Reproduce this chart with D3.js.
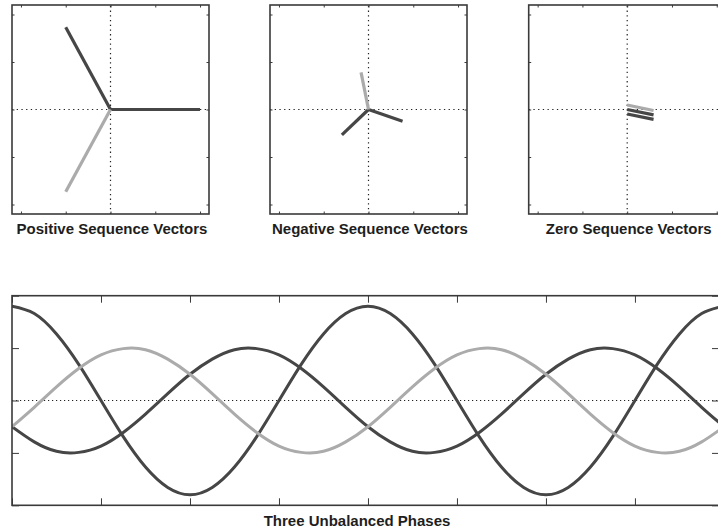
<!DOCTYPE html>
<html>
<head>
<meta charset="utf-8">
<script src="https://cdn.jsdelivr.net/npm/d3@7/dist/d3.min.js"></script>
<style>
  html, body { margin: 0; padding: 0; background: #fff; }
  svg { display: block; }
  text { font-family: "Liberation Sans", Arial, sans-serif; }
</style>
</head>
<body>
<script>
// ---- Phase styling order: A, B, C ----
const phases = ["A", "B", "C"];
const phaseColors = ["#464646", "#ababab", "#464646"];

// ---- Symmetrical-component phasors (magnitude, angle in degrees) ----
const posMag = [1.0, 1.0, 1.0];
const posAng = [0, 240, 120];
const negMag = [0.40, 0.40, 0.40];
const negAng = [342, 102, 222];
const zeroMag = [0.30, 0.30, 0.30];
const zeroAng = [-11, -11, -11];

const vectorTicks = [-1, -0.5, 0, 0.5, 1];
const panelTitles = ["Positive Sequence Vectors", "Negative Sequence Vectors", "Zero Sequence Vectors"];

// ---- Phase waveforms, sampled every 22.5 degrees over two cycles ----
const angleDeg = d3.range(0, 721, 22.5);
const phaseA = [1.80, 1.66, 1.27, 0.69, 0.00, -0.69, -1.27, -1.66, -1.80, -1.66, -1.27, -0.69, 0.00, 0.69, 1.27, 1.66,
                1.80, 1.66, 1.27, 0.69, 0.00, -0.69, -1.27, -1.66, -1.80, -1.66, -1.27, -0.69, 0.00, 0.69, 1.27, 1.66, 1.80];
const phaseB = [-0.50, -0.13, 0.26, 0.61, 0.87, 0.99, 0.97, 0.79, 0.50, 0.13, -0.26, -0.61, -0.87, -0.99, -0.97, -0.79,
                -0.50, -0.13, 0.26, 0.61, 0.87, 0.99, 0.97, 0.79, 0.50, 0.13, -0.26, -0.61, -0.87, -0.99, -0.97, -0.79, -0.50];
const phaseC = [-0.50, -0.79, -0.97, -0.99, -0.87, -0.61, -0.26, 0.13, 0.50, 0.79, 0.97, 0.99, 0.87, 0.61, 0.26, -0.13,
                -0.50, -0.79, -0.97, -0.99, -0.87, -0.61, -0.26, 0.13, 0.50, 0.79, 0.97, 0.99, 0.87, 0.61, 0.26, -0.13, -0.50];
const waveTicksX = [0, 90, 180, 270, 360, 450, 540, 630, 720];
const waveTicksY = [-2, -1, 0, 1, 2];
const waveTitle = "Three Unbalanced Phases";

const W = 718, H = 530;
const svg = d3.select("body").append("svg").attr("width", W).attr("height", H);

const frameColor = "#3a3a3a";

function inwardAxes(g, x, y, xt, yt, len) {
  const [x0, x1] = x.range();
  const [y0, y1] = y.range();
  const strip = sel => { sel.select(".domain").remove(); sel.selectAll("line").attr("stroke", frameColor).attr("stroke-width", 1); };
  g.append("g").attr("transform", `translate(0,${y0})`)
    .call(d3.axisBottom(x).tickValues(xt).tickSizeInner(-len).tickSizeOuter(0).tickFormat(""))
    .call(strip);
  g.append("g").attr("transform", `translate(0,${y1})`)
    .call(d3.axisTop(x).tickValues(xt).tickSizeInner(-len).tickSizeOuter(0).tickFormat(""))
    .call(strip);
  g.append("g").attr("transform", `translate(${x0},0)`)
    .call(d3.axisLeft(y).tickValues(yt).tickSizeInner(-len).tickSizeOuter(0).tickFormat(""))
    .call(strip);
  g.append("g").attr("transform", `translate(${x1},0)`)
    .call(d3.axisRight(y).tickValues(yt).tickSizeInner(-len).tickSizeOuter(0).tickFormat(""))
    .call(strip);
  g.append("rect")
    .attr("x", x0).attr("y", y1)
    .attr("width", x1 - x0).attr("height", y0 - y1)
    .attr("fill", "none").attr("stroke", frameColor).attr("stroke-width", 1.6);
}

// ---- Three phasor panels ----
const panelLeft = [12, 270, 528.7];
const panelW = 197, panelTop = 5, panelH = 209;
const panelData = [
  {mag: posMag, ang: posAng, stagger: 0},
  {mag: negMag, ang: negAng, stagger: 0},
  {mag: zeroMag, ang: zeroAng, stagger: 0.047}
];
// draw order keeps the light phase above the dark ones
const drawOrder = [0, 2, 1];
const staggerSign = [0, 1, -1];

panelData.forEach((pd, i) => {
  const x = d3.scaleLinear().domain([-1.1, 1.1]).range([panelLeft[i], panelLeft[i] + panelW]);
  const y = d3.scaleLinear().domain([-1.1, 1.1]).range([panelTop + panelH, panelTop]);
  const g = svg.append("g");

  // zero reference lines
  g.append("line")
    .attr("x1", x(-1.1)).attr("x2", x(1.1)).attr("y1", y(0)).attr("y2", y(0))
    .attr("stroke", "#222").attr("stroke-width", 1.2).attr("stroke-dasharray", "1.3,3.4");
  g.append("line")
    .attr("x1", x(0)).attr("x2", x(0)).attr("y1", y(-1.1)).attr("y2", y(1.1))
    .attr("stroke", "#222").attr("stroke-width", 1.2).attr("stroke-dasharray", "1.3,3.4");

  const vecs = drawOrder.map(k => {
    const a = pd.ang[k] * Math.PI / 180;
    const oy = staggerSign[k] * pd.stagger;
    return {k, x0: 0, y0: oy, x1: pd.mag[k] * Math.cos(a), y1: oy + pd.mag[k] * Math.sin(a)};
  });
  g.selectAll("line.vec").data(vecs).join("line")
    .attr("class", "vec")
    .attr("x1", d => x(d.x0)).attr("y1", d => y(d.y0))
    .attr("x2", d => x(d.x1)).attr("y2", d => y(d.y1))
    .attr("stroke", d => phaseColors[d.k])
    .attr("stroke-width", 3.2)
    .attr("stroke-linecap", "butt");

  inwardAxes(g, x, y, vectorTicks, vectorTicks, 2.5);

  svg.append("text")
    .attr("x", x(0) + 1.5).attr("y", 234)
    .attr("text-anchor", "middle")
    .attr("font-size", 15).attr("font-weight", "bold").attr("fill", "#1e1e1e")
    .text(panelTitles[i]);
});

// ---- Waveform panel ----
const wx = d3.scaleLinear().domain([0, 715]).range([12, 719]);
const wy = d3.scaleLinear().domain([-2, 2]).range([505.3, 295.7]);
const wg = svg.append("g");
const clip = svg.append("clipPath").attr("id", "waveclip").append("rect")
  .attr("x", 12).attr("y", 295.7).attr("width", 707).attr("height", 209.6);

wg.append("line")
  .attr("x1", wx(0)).attr("x2", wx(715)).attr("y1", wy(0)).attr("y2", wy(0))
  .attr("stroke", "#222").attr("stroke-width", 1).attr("stroke-dasharray", "1.2,2.8");

const waves = [phaseA, phaseB, phaseC];
const line = d3.line()
  .x((d, j) => wx(angleDeg[j]))
  .y(d => wy(d))
  .curve(d3.curveNatural);
const waveOrder = [0, 2, 1];
wg.append("g").attr("clip-path", "url(#waveclip)")
  .selectAll("path").data(waveOrder).join("path")
  .attr("d", k => line(waves[k]))
  .attr("fill", "none")
  .attr("stroke", k => phaseColors[k])
  .attr("stroke-width", 3);

inwardAxes(wg, wx, wy, waveTicksX, waveTicksY, 7);

svg.append("text")
  .attr("x", 357).attr("y", 526)
  .attr("text-anchor", "middle")
  .attr("font-size", 15).attr("font-weight", "bold").attr("fill", "#1e1e1e")
  .text(waveTitle);
</script>
</body>
</html>
